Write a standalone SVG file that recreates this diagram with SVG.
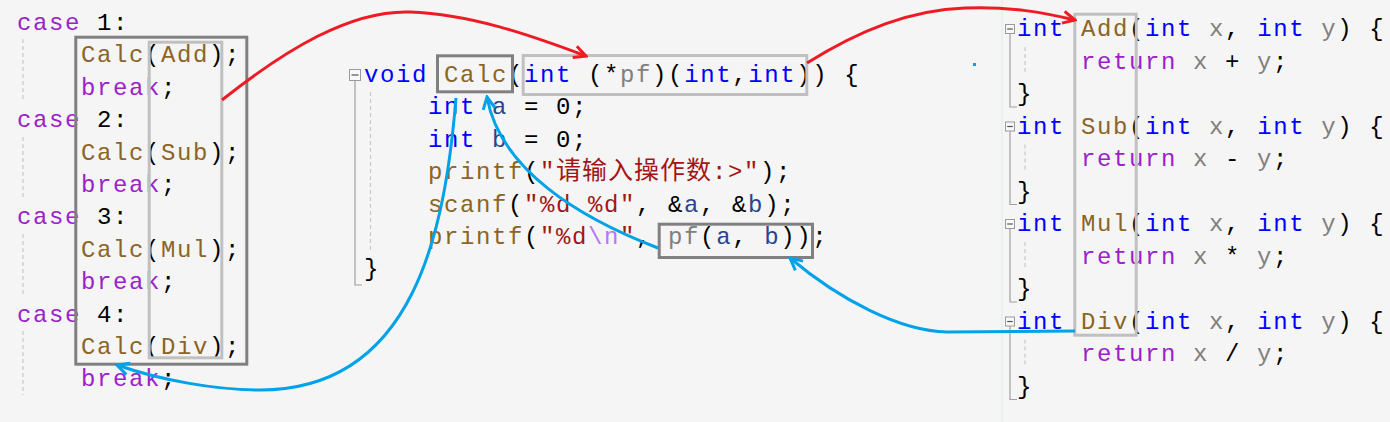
<svg xmlns="http://www.w3.org/2000/svg" width="1390" height="422" viewBox="0 0 1390 422">
<style>
.code{font-family:"Liberation Mono","Noto Sans CJK SC",monospace;font-size:24px;letter-spacing:1.6px;fill:#000000}
.kw{fill:#0000ff}
.ctl{fill:#9b22c9}
.fn{fill:#8c6425}
.par{fill:#808080}
.loc{fill:#29448f}
.str{fill:#a31515}
.cjk{font-size:25px;letter-spacing:1px}
.esc{fill:#b776fb}
.dark{fill:none;stroke:#808080;stroke-width:3}
.light{fill:none;stroke:#c0c0c0;stroke-width:3}
.guide{stroke:#c8c8c8;stroke-width:1.2;stroke-dasharray:4 3;fill:none}
.fold{stroke:#a0a0a0;stroke-width:1.2;fill:none}
.fbox{fill:#f8f8f8;stroke:#9a9a9a;stroke-width:1}
.fminus{stroke:#555555;stroke-width:1.2}
.red{fill:none;stroke:#ed1c24;stroke-width:3}
.blue{fill:none;stroke:#00a2e8;stroke-width:3}
</style>
<defs>
<marker id="ahRed" viewBox="0 0 16 16" refX="14" refY="8" markerWidth="16" markerHeight="16" markerUnits="userSpaceOnUse" orient="auto"><path d="M2,2 L14,8 L2,14" fill="none" stroke="#ed1c24" stroke-width="3"/></marker>
<marker id="ahBlue" viewBox="0 0 16 16" refX="14" refY="8" markerWidth="16" markerHeight="16" markerUnits="userSpaceOnUse" orient="auto"><path d="M2,2 L14,8 L2,14" fill="none" stroke="#00a2e8" stroke-width="3"/></marker>
</defs>
<rect x="0" y="0" width="1390" height="422" fill="#f5f5f5"/>
<line x1="1002" y1="0" x2="1002" y2="422" stroke="#e2ebe2" stroke-width="1"/>

<g id="switch-cases">
<line class="guide" x1="23" y1="39" x2="23" y2="102"/>
<line class="guide" x1="23" y1="137" x2="23" y2="200"/>
<line class="guide" x1="23" y1="234" x2="23" y2="297"/>
<line class="guide" x1="23" y1="331" x2="23" y2="395"/>
<text class="code" xml:space="preserve" x="17" y="30"><tspan class="ctl">case</tspan> 1:</text>
<text class="code" xml:space="preserve" x="81" y="62.4"><tspan class="fn">Calc</tspan>(<tspan class="fn">Add</tspan>);</text>
<text class="code" xml:space="preserve" x="81" y="94.8"><tspan class="ctl">break</tspan>;</text>
<text class="code" xml:space="preserve" x="17" y="127.2"><tspan class="ctl">case</tspan> 2:</text>
<text class="code" xml:space="preserve" x="81" y="159.6"><tspan class="fn">Calc</tspan>(<tspan class="fn">Sub</tspan>);</text>
<text class="code" xml:space="preserve" x="81" y="192"><tspan class="ctl">break</tspan>;</text>
<text class="code" xml:space="preserve" x="17" y="224.4"><tspan class="ctl">case</tspan> 3:</text>
<text class="code" xml:space="preserve" x="81" y="256.8"><tspan class="fn">Calc</tspan>(<tspan class="fn">Mul</tspan>);</text>
<text class="code" xml:space="preserve" x="81" y="289.2"><tspan class="ctl">break</tspan>;</text>
<text class="code" xml:space="preserve" x="17" y="321.6"><tspan class="ctl">case</tspan> 4:</text>
<text class="code" xml:space="preserve" x="81" y="354"><tspan class="fn">Calc</tspan>(<tspan class="fn">Div</tspan>);</text>
<text class="code" xml:space="preserve" x="81" y="386.4"><tspan class="ctl">break</tspan>;</text>
</g>
<g id="node-calc-calls">
<rect class="dark" x="75.8" y="37.2" width="171" height="327"/>
</g>
<g id="node-calc-args">
<rect class="light" x="149.2" y="42.2" width="72.6" height="315.6"/>
</g>

<g id="calc-function">
<rect class="fbox" x="349.5" y="69.5" width="11" height="11"/>
<line class="fminus" x1="351.5" y1="75" x2="358.5" y2="75"/>
<polyline class="fold" points="355,80.5 355,285 362,285"/>
<line class="guide" x1="370.5" y1="92" x2="370.5" y2="252"/>
<text class="code" xml:space="preserve" x="364" y="82"><tspan class="kw">void</tspan> <tspan class="fn">Calc</tspan>(<tspan class="kw">int</tspan> (*<tspan class="par">pf</tspan>)(<tspan class="kw">int</tspan>,<tspan class="kw">int</tspan>)) {</text>
<text class="code" xml:space="preserve" x="428" y="114.4"><tspan class="kw">int</tspan> <tspan class="loc">a</tspan> = 0;</text>
<text class="code" xml:space="preserve" x="428" y="146.8"><tspan class="kw">int</tspan> <tspan class="loc">b</tspan> = 0;</text>
<text class="code" xml:space="preserve" x="428" y="179.2"><tspan class="fn">printf</tspan>(<tspan class="str">"<tspan class="cjk">请输入操作数</tspan>:&gt;"</tspan>);</text>
<text class="code" xml:space="preserve" x="428" y="211.6"><tspan class="fn">scanf</tspan>(<tspan class="str">"%d %d"</tspan>, &amp;<tspan class="loc">a</tspan>, &amp;<tspan class="loc">b</tspan>);</text>
<text class="code" xml:space="preserve" x="428" y="244"><tspan class="fn">printf</tspan>(<tspan class="str">"%d</tspan><tspan class="esc">\n</tspan><tspan class="str">"</tspan>, <tspan class="par">pf</tspan>(<tspan class="loc">a</tspan>, <tspan class="loc">b</tspan>));</text>
<text class="code" xml:space="preserve" x="364" y="276.4">}</text>
</g>
<g id="node-calc-name">
<rect class="dark" x="437.5" y="55.8" width="75" height="36"/>
</g>
<g id="node-calc-param">
<rect class="light" x="523.2" y="55.5" width="283.6" height="39"/>
</g>
<g id="node-pf-call">
<rect class="dark" x="659.2" y="224.2" width="153.3" height="33.3"/>
</g>

<g id="operation-functions">
<rect class="fbox" x="1005.5" y="24.5" width="9" height="9"/>
<line class="fminus" x1="1007.2" y1="29" x2="1012.8" y2="29"/>
<polyline class="fold" points="1010,33.5 1010,107 1017,107"/>
<line class="guide" x1="1025" y1="47" x2="1025" y2="74"/>
<rect class="fbox" x="1005.5" y="122" width="9" height="9"/>
<line class="fminus" x1="1007.2" y1="126.5" x2="1012.8" y2="126.5"/>
<polyline class="fold" points="1010,131 1010,204.5 1017,204.5"/>
<line class="guide" x1="1025" y1="144.5" x2="1025" y2="171.5"/>
<rect class="fbox" x="1005.5" y="219.5" width="9" height="9"/>
<line class="fminus" x1="1007.2" y1="224" x2="1012.8" y2="224"/>
<polyline class="fold" points="1010,228.5 1010,302 1017,302"/>
<line class="guide" x1="1025" y1="242" x2="1025" y2="269"/>
<rect class="fbox" x="1005.5" y="317" width="9" height="9"/>
<line class="fminus" x1="1007.2" y1="321.5" x2="1012.8" y2="321.5"/>
<polyline class="fold" points="1010,326 1010,399.5 1017,399.5"/>
<line class="guide" x1="1025" y1="339.5" x2="1025" y2="366.5"/>
<text class="code" xml:space="preserve" x="1017" y="36"><tspan class="kw">int</tspan> <tspan class="fn">Add</tspan>(<tspan class="kw">int</tspan> <tspan class="par">x</tspan>, <tspan class="kw">int</tspan> <tspan class="par">y</tspan>) {</text>
<text class="code" xml:space="preserve" x="1081" y="68.5"><tspan class="ctl">return</tspan> <tspan class="par">x</tspan> + <tspan class="par">y</tspan>;</text>
<text class="code" xml:space="preserve" x="1017" y="101">}</text>
<text class="code" xml:space="preserve" x="1017" y="133.5"><tspan class="kw">int</tspan> <tspan class="fn">Sub</tspan>(<tspan class="kw">int</tspan> <tspan class="par">x</tspan>, <tspan class="kw">int</tspan> <tspan class="par">y</tspan>) {</text>
<text class="code" xml:space="preserve" x="1081" y="166"><tspan class="ctl">return</tspan> <tspan class="par">x</tspan> - <tspan class="par">y</tspan>;</text>
<text class="code" xml:space="preserve" x="1017" y="198.5">}</text>
<text class="code" xml:space="preserve" x="1017" y="231"><tspan class="kw">int</tspan> <tspan class="fn">Mul</tspan>(<tspan class="kw">int</tspan> <tspan class="par">x</tspan>, <tspan class="kw">int</tspan> <tspan class="par">y</tspan>) {</text>
<text class="code" xml:space="preserve" x="1081" y="263.5"><tspan class="ctl">return</tspan> <tspan class="par">x</tspan> * <tspan class="par">y</tspan>;</text>
<text class="code" xml:space="preserve" x="1017" y="296">}</text>
<text class="code" xml:space="preserve" x="1017" y="328.5"><tspan class="kw">int</tspan> <tspan class="fn">Div</tspan>(<tspan class="kw">int</tspan> <tspan class="par">x</tspan>, <tspan class="kw">int</tspan> <tspan class="par">y</tspan>) {</text>
<text class="code" xml:space="preserve" x="1081" y="361"><tspan class="ctl">return</tspan> <tspan class="par">x</tspan> / <tspan class="par">y</tspan>;</text>
<text class="code" xml:space="preserve" x="1017" y="393.5">}</text>
</g>
<g id="node-func-names">
<rect class="light" x="1074.8" y="14.2" width="61.4" height="321"/>
</g>

<rect x="973" y="63" width="3" height="3" fill="#00a2e8"/>

<g id="connectors">
<path class="red" d="M222,100 C285,50 350,10 410,12 C470,14 530,35 586,56" marker-end="url(#ahRed)"/>
<path class="red" d="M807,63 C860,30 910,10 965,8 C1010,6 1045,13 1075,20" marker-end="url(#ahRed)"/>
<path class="blue" d="M1075,331 L947,332 C900,331 840,300 790,258" marker-end="url(#ahBlue)"/>
<path class="blue" d="M658,248 C580,218 500,170 487,97" marker-end="url(#ahBlue)"/>
<path class="blue" d="M456,98 C445,230 415,390 260,390 C215,390 160,380 117,365" marker-end="url(#ahBlue)"/>
</g>
</svg>
